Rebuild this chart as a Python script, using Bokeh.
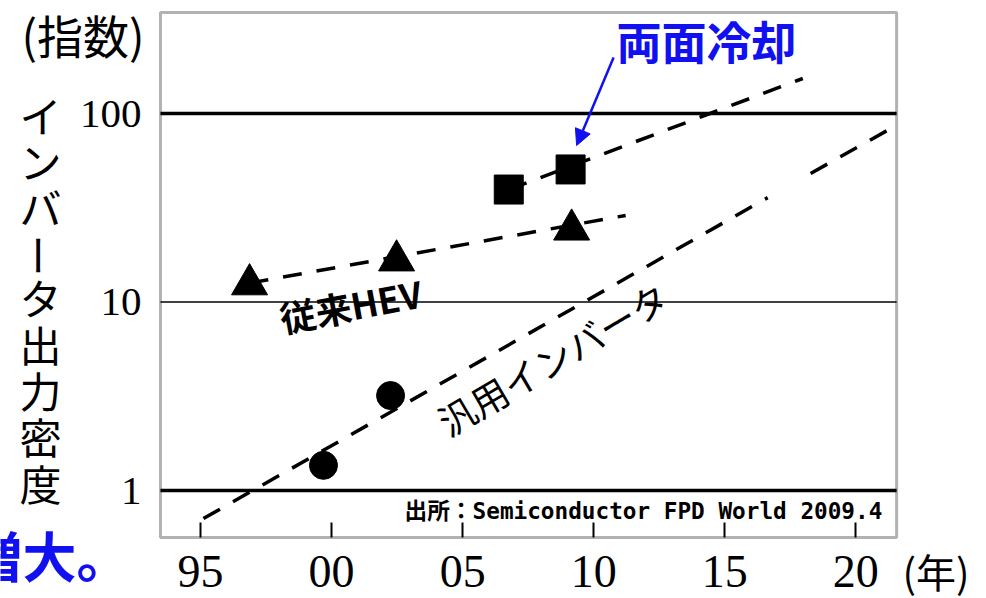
from bokeh.plotting import figure
from bokeh.models import (FixedTicker, Label, Arrow, NormalHead, Range1d, BoxAnnotation)
from bokeh.embed import file_html
from bokeh.resources import INLINE

# ---------------- data ----------------
hev_years = [1996.87, 2002.48, 2009.16]
hev_values = [12.4, 16.6, 24.2]
dual_years = [2006.76, 2009.12]
dual_values = [39.5, 50.5]
general_years = [1999.69, 2002.25]
general_values = [1.36, 3.19]

hev_trend_years = [1996.87, 2011.22]
hev_trend_values = [12.6, 28.8]
dual_trend_years = [2006.76, 2017.98]
dual_trend_values = [39.5, 153.4]
general_trend_years = [1995.11, 2016.64, float("nan"), 2018.28, 2021.34]
general_trend_values = [0.710, 35.8, float("nan"), 48.1, 83.3]

x_ticks = [1995, 2000, 2005, 2010, 2015, 2020]
x_tick_labels = ["95", "00", "05", "10", "15", "20"]
y_ticks = [1, 10, 100]
y_tick_labels = ["1", "10", "100"]

# plot box (data extent of the chart frame)
x_min, x_max = 1993.47, 2021.56
y_min, y_max = 0.563, 343.6

arrow_from = (2010.76, 198.0)
arrow_to = (2009.35, 67.6)

BLUE = "#1010F0"
SERIF = "Liberation Serif"
JP = "Noto Sans CJK JP"

W, H = 986, 598

p = figure(width=W, height=H,
           x_range=Range1d(1987.366, 2024.99),
           y_range=Range1d(0.2674, 397.7),
           y_axis_type="log",
           output_backend="svg", toolbar_location=None,
           min_border=0, min_border_left=0, min_border_right=0,
           min_border_top=0, min_border_bottom=0)
p.background_fill_color = "white"
p.border_fill_color = "white"
p.outline_line_color = None
p.xgrid.visible = False
p.ygrid.visible = False

# axes, placed on the box edges
xa = p.xaxis[0]
xa.fixed_location = y_min
xa.ticker = FixedTicker(ticks=x_ticks)
xa.major_label_overrides = {t: l for t, l in zip(x_ticks, x_tick_labels)}
xa.major_tick_in = 15
xa.major_tick_out = 0
xa.major_tick_line_width = 2
xa.major_tick_line_color = "black"
xa.minor_tick_line_color = None
xa.axis_line_color = None
xa.major_label_text_font = SERIF
xa.major_label_text_font_size = "46px"
xa.major_label_text_color = "black"
xa.major_label_standoff = 18

ya = p.yaxis[0]
ya.fixed_location = x_min
ya.ticker = FixedTicker(ticks=y_ticks)
ya.major_label_overrides = {t: l for t, l in zip(y_ticks, y_tick_labels)}
ya.major_tick_line_color = None
ya.minor_tick_line_color = None
ya.axis_line_color = None
ya.major_label_text_font = SERIF
ya.major_label_text_font_size = "41px"
ya.major_label_text_color = "black"
ya.major_label_standoff = 13

# box
p.add_layout(BoxAnnotation(left=x_min, right=x_max, bottom=y_min, top=y_max,
                           fill_alpha=0, line_color="black", line_width=3))

# reference lines
for v, w in zip(y_ticks, [3.5, 1.5, 3.5]):
    p.segment(x0=[x_min], x1=[x_max], y0=[v], y1=[v], line_color="black", line_width=w)

# trend lines
dash = "19 15"
p.line(hev_trend_years, hev_trend_values, line_color="black", line_width=3.5, line_dash=dash)
p.line(dual_trend_years, dual_trend_values, line_color="black", line_width=3.5, line_dash=dash)
p.line(general_trend_years, general_trend_values, line_color="black", line_width=3.5, line_dash=dash)

# markers
p.scatter(hev_years, hev_values, marker="triangle", size=36, color="black")
p.scatter(dual_years, dual_values, marker="square", size=29, color="black")
p.scatter(general_years, general_values, marker="circle", size=28, color="black")

# arrow
p.add_layout(Arrow(end=NormalHead(size=16, fill_color=BLUE, line_color=BLUE),
                   x_start=arrow_from[0], y_start=arrow_from[1],
                   x_end=arrow_to[0], y_end=arrow_to[1],
                   line_color=BLUE, line_width=2.5))


def lab(text, X, Y, font, size, color="black", align="left", baseline="middle",
        style="normal", angle=0.0, lh=1.2):
    p.add_layout(Label(x=X, y=H - Y, x_units="screen", y_units="screen",
                       text=text, text_font=font, text_font_size=f"{size}px",
                       text_color=color, text_align=align, text_baseline=baseline,
                       text_font_style=style, angle=angle, angle_units="deg",
                       text_line_height=lh))


lab("両面冷却", 616, 40, JP, 45, color=BLUE, style="bold")
lab("従来HEV", 350, 304, JP, 36, align="center", style="bold", angle=10.5)
lab("汎用インバータ", 552, 358, JP, 37, align="center", angle=30.5)
lab("出所：Semiconductor FPD World 2009.4", 404, 510,
    "'DejaVu Sans Mono', 'Noto Sans CJK JP'", 22.7, style="bold")
lab("(指数)", 21, 33, JP, 46)
lab("イ\nン\nバ", 40, 160, JP, 42, align="center", lh=0.762)
lab("ー", 40, 255, JP, 42, align="center", angle=-90)
lab("タ\n出\n力\n密\n度", 40, 389, JP, 42, align="center", lh=0.762)
lab("(年)", 902, 570, JP, 40)
lab("増大。", -32, 554, JP, 54, color=BLUE, style="bold")

open("out.html", "w").write(file_html(p, INLINE))
